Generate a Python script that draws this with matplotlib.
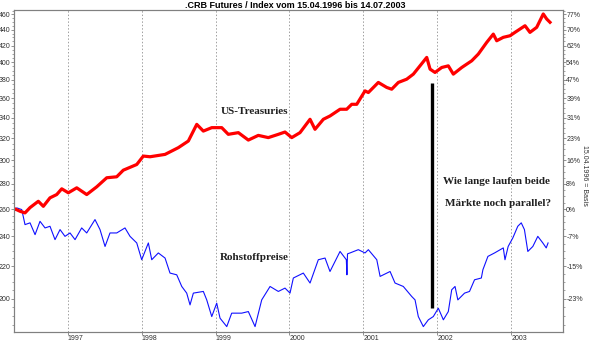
import matplotlib
matplotlib.use("Agg")
import matplotlib.pyplot as plt
from matplotlib.ticker import FixedLocator, NullFormatter, FixedFormatter

# ---- data (decimal years, index values) ----
treas_t = [1996.29, 1996.355, 1996.422, 1996.49, 1996.602, 1996.670, 1996.760, 1996.851, 1996.919,
           1997.008, 1997.122, 1997.257, 1997.392, 1997.528, 1997.663, 1997.752, 1997.934, 1998.023,
           1998.114, 1998.317, 1998.497, 1998.632, 1998.746, 1998.835, 1998.949, 1999.084, 1999.173,
           1999.309, 1999.444, 1999.579, 1999.714, 1999.850, 1999.940, 2000.031, 2000.143, 2000.279,
           2000.346, 2000.459, 2000.549, 2000.685, 2000.775, 2000.843, 2000.911, 2001.023, 2001.068,
           2001.203, 2001.317, 2001.384, 2001.474, 2001.587, 2001.677, 2001.767, 2001.858, 2001.903,
           2001.970, 2002.061, 2002.150, 2002.218, 2002.332, 2002.467, 2002.556, 2002.670, 2002.759,
           2002.805, 2002.894, 2002.985, 2003.052, 2003.188, 2003.255, 2003.346, 2003.435, 2003.481,
           2003.526]
treas_v = [260.0, 258.3, 257.1, 261.1, 266.0, 262.1, 268.7, 271.3, 275.9,
           272.7, 276.7, 271.3, 277.5, 285.0, 285.8, 291.4, 296.3, 303.7,
           303.1, 305.2, 311.3, 317.4, 333.3, 326.8, 330.1, 330.1, 323.7,
           325.3, 318.3, 322.7, 320.6, 323.7, 325.9, 320.6, 325.3, 338.3,
           328.5, 338.3, 341.6, 348.4, 348.4, 353.5, 353.5, 367.7, 365.9,
           376.9, 371.4, 369.5, 376.9, 380.5, 386.2, 395.7, 405.6, 391.9,
           388.1, 393.8, 395.7, 386.2, 393.8, 401.6, 409.6, 423.9, 434.3,
           425.9, 430.2, 432.2, 436.5, 445.1, 436.5, 443.0, 460.7, 454.0,
           449.6]

crb_t = [1996.29, 1996.31, 1996.378, 1996.422, 1996.49, 1996.558, 1996.625, 1996.693, 1996.760,
         1996.828, 1996.896, 1996.963, 1997.031, 1997.099, 1997.189, 1997.257, 1997.369, 1997.437,
         1997.505, 1997.572, 1997.663, 1997.775, 1997.843, 1997.934, 1998.001, 1998.091, 1998.137,
         1998.226, 1998.317, 1998.384, 1998.475, 1998.543, 1998.610, 1998.655, 1998.700, 1998.835,
         1998.881, 1998.949, 1999.016, 1999.061, 1999.152, 1999.219, 1999.354, 1999.444, 1999.535,
         1999.625, 1999.738, 1999.850, 1999.940, 2000.008, 2000.053, 2000.188, 2000.279, 2000.391,
         2000.482, 2000.549, 2000.685, 2000.770, 2000.778, 2000.786, 2000.820, 2000.932, 2001.023,
         2001.068, 2001.182, 2001.227, 2001.362, 2001.429, 2001.541, 2001.655, 2001.700, 2001.744,
         2001.812, 2001.880, 2001.947, 2002.015, 2002.083, 2002.150, 2002.196, 2002.241, 2002.279,
         2002.370, 2002.437, 2002.505, 2002.597, 2002.618, 2002.686, 2002.776, 2002.894, 2002.917,
         2002.960, 2003.023, 2003.090, 2003.137, 2003.180, 2003.226, 2003.294, 2003.361, 2003.429,
         2003.475, 2003.500]
crb_v = [259.0, 260.9, 259.6, 248.4, 249.7, 241.2, 250.8, 246.0, 247.2,
         237.7, 244.8, 240.0, 242.4, 237.7, 246.0, 242.4, 252.1, 244.8,
         233.0, 242.4, 242.4, 246.0, 240.0, 235.4, 224.1, 235.4, 224.1,
         228.6, 225.2, 215.5, 214.4, 207.2, 203.2, 196.3, 203.2, 204.2,
         199.2, 189.7, 197.3, 188.8, 184.2, 191.6, 191.6, 192.5, 184.2,
         199.2, 207.2, 204.2, 206.2, 203.2, 212.4, 215.5, 209.3, 224.1,
         225.2, 216.5, 229.6, 224.1, 214.4, 228.0, 228.6, 230.8, 228.6,
         230.8, 224.1, 213.4, 216.5, 209.3, 207.2, 201.2, 199.2, 189.7,
         184.2, 187.9, 189.7, 194.4, 187.9, 192.5, 205.2, 207.2, 199.2,
         203.2, 204.2, 211.3, 212.4, 217.6, 226.3, 228.6, 232.0, 224.1,
         233.0, 238.9, 247.2, 249.7, 244.8, 229.6, 233.0, 240.0, 235.4,
         232.0, 235.4]

marker_t = [2001.936, 2001.936]
marker_v = [376.0, 194.8]

left_ticks = [460, 440, 420, 400, 380, 360, 340, 320, 300, 280, 260, 240, 220, 200]
right_labels = ['77%', '70%', '62%', '54%', '47%', '39%', '31%', '23%', '16%', '8%', '0%', '-7%', '-15%', '-23%']
years = [1997, 1998, 1999, 2000, 2001, 2002, 2003]

plt.rcParams['font.family'] = ['Liberation Sans', 'DejaVu Sans']

fig = plt.figure(figsize=(5.9, 3.44), dpi=100)
ax = fig.add_axes([14/590, 12/344, (563-14)/590, (333-11)/344])
ax.set_yscale('log')
ax.set_xlim(1996.273, 2003.702)
ax.set_ylim(181.3, 466.1)

for y in years:
    ax.axvline(y, color='#a0a0a0', lw=0.7, ls=(0, (1.5, 2)), zorder=1)

ax.plot(crb_t, crb_v, color='#1010ff', lw=0.8, zorder=3)
ax.plot(treas_t, treas_v, color='#ff0000', lw=2.3, zorder=4)
ax.plot(marker_t, marker_v, color='black', lw=2.4, zorder=5, solid_capstyle='butt')

tick_col = '#303030'
spine_col = '#808080'
minor = list(range(185, 466, 5))
ax.yaxis.set_major_locator(FixedLocator(left_ticks))
ax.yaxis.set_minor_locator(FixedLocator(minor))
ax.yaxis.set_major_formatter(FixedFormatter([str(v) for v in left_ticks]))
ax.yaxis.set_minor_formatter(NullFormatter())
ax.tick_params(axis='y', which='major', labelsize=5, length=2, width=0.6, color=spine_col,
               labelcolor=tick_col, pad=0.3)
ax.tick_params(axis='y', which='minor', length=1.2, width=0.5, color=spine_col)

ax.set_xticks(years)
ax.set_xticklabels([str(y) for y in years], ha='left')
ax.tick_params(axis='x', labelsize=5, length=2, width=0.6, color=spine_col, labelcolor=tick_col, pad=0.5)

for s in ax.spines.values():
    s.set_color(spine_col)
    s.set_linewidth(0.8)

ax2 = ax.twinx()
ax2.set_yscale('log')
ax2.set_ylim(ax.get_ylim())
ax2.yaxis.set_major_locator(FixedLocator(left_ticks))
ax2.yaxis.set_major_formatter(FixedFormatter(right_labels))
ax2.yaxis.set_minor_locator(FixedLocator(minor))
ax2.yaxis.set_minor_formatter(NullFormatter())
ax2.tick_params(axis='y', which='major', labelsize=5, length=2, width=0.6, color=spine_col,
                labelcolor=tick_col, pad=0.3)
ax2.tick_params(axis='y', which='minor', length=1.2, width=0.5, color=spine_col)
for s in ax2.spines.values():
    s.set_color(spine_col)
    s.set_linewidth(0.8)

fig.text(295/590, 1 - 5.5/344, '.CRB Futures / Index vom 15.04.1996 bis 14.07.2003',
         ha='center', va='center', fontsize=6.5, fontweight='bold')
fig.text(584.5/590, 1 - 175/344, '15.04.1996 = Basis', rotation=270, ha='center', va='center',
         fontsize=5, color=tick_col)

serif = dict(family='Liberation Serif', fontweight='bold', fontsize=8, color='#202020')
fig.text(254/590, 1 - 111/344, 'US-Treasuries', ha='center', va='center', **serif)
fig.text(254/590, 1 - 258/344, 'Rohstoffpreise', ha='center', va='center', **serif)
fig.text(443/590, 1 - 181/344, 'Wie lange laufen beide', ha='left', va='center', **serif)
fig.text(445/590, 1 - 203/344, 'Märkte noch parallel?', ha='left', va='center', **serif)

fig.savefig('out.png', dpi=100)
